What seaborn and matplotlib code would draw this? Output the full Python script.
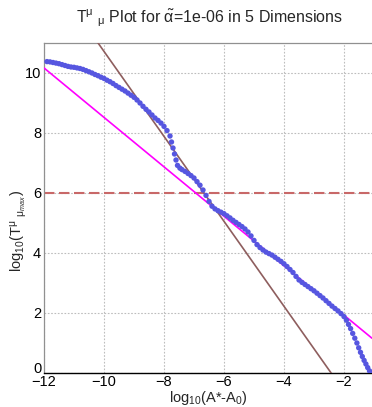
import numpy as np
import pandas as pd
import matplotlib
matplotlib.use("Agg")
import matplotlib.pyplot as plt
from matplotlib.ticker import MultipleLocator
import seaborn as sns

# Measured trace of T^mu_mu (log10) against log10(A* - A0)
log_da = [
    -11.90, -11.80, -11.70, -11.60, -11.50, -11.40, -11.30, -11.20, -11.10, -11.00,
    -10.90, -10.80, -10.70, -10.60, -10.50, -10.40, -10.30, -10.20, -10.10, -10.00,
    -9.90, -9.80, -9.70, -9.60, -9.50, -9.40, -9.30, -9.20, -9.10, -9.00,
    -8.90, -8.80, -8.70, -8.60, -8.50, -8.40, -8.30, -8.20, -8.10, -8.00,
    -7.90, -7.80, -7.75, -7.70, -7.65, -7.60, -7.55, -7.47,
    -7.40, -7.30, -7.20, -7.10, -7.00, -6.90, -6.80, -6.70, -6.60, -6.50,
    -6.40, -6.30, -6.20, -6.10, -6.00, -5.90, -5.80, -5.70, -5.60, -5.50,
    -5.40, -5.30, -5.20, -5.10, -5.00, -4.90, -4.80, -4.70, -4.60, -4.50,
    -4.40, -4.30, -4.20, -4.10, -4.00, -3.90, -3.80, -3.70, -3.60, -3.50,
    -3.40, -3.30, -3.20, -3.10, -3.00, -2.90, -2.80, -2.70, -2.60, -2.50,
    -2.40, -2.30, -2.20, -2.10, -2.00,
    -1.92, -1.85, -1.78, -1.71, -1.64, -1.57, -1.51, -1.45, -1.39, -1.33,
    -1.27, -1.21, -1.15, -1.10,
]
log_t = [
    10.38, 10.37, 10.35, 10.33, 10.31, 10.28, 10.25, 10.22, 10.20, 10.19,
    10.17, 10.15, 10.12, 10.08, 10.04, 10.00, 9.95, 9.91, 9.86, 9.82,
    9.76, 9.71, 9.65, 9.58, 9.52, 9.46, 9.40, 9.33, 9.26, 9.19,
    9.10, 9.00, 8.89, 8.79, 8.70, 8.60, 8.50, 8.42, 8.33, 8.22,
    8.08, 7.90, 7.70, 7.50, 7.30, 7.10, 6.92, 6.83,
    6.78, 6.72, 6.65, 6.58, 6.50, 6.38, 6.26, 6.10, 5.92, 5.72,
    5.56, 5.47, 5.41, 5.36, 5.31, 5.24, 5.17, 5.09, 5.02, 4.95,
    4.88, 4.80, 4.70, 4.57, 4.42, 4.28, 4.18, 4.10, 4.03, 3.98,
    3.93, 3.86, 3.79, 3.72, 3.64, 3.55, 3.45, 3.35, 3.22, 3.10,
    3.02, 2.95, 2.88, 2.81, 2.74, 2.66, 2.58, 2.50, 2.41, 2.32,
    2.23, 2.15, 2.07, 1.98, 1.88,
    1.76, 1.62, 1.48, 1.32, 1.16, 1.00, 0.84, 0.69, 0.55, 0.42,
    0.30, 0.18, 0.07, -0.03,
]

# Straight-line fits: (intercept, slope)
fit_magenta = (0.28, -0.824)
fit_brown = (-3.44, -1.416)
threshold = 6.0

x_range = (-12.0, -1.0667)
y_range = (0.0, 11.0)

sns.set_style("white")
plt.rcParams["font.family"] = ["Liberation Sans", "DejaVu Sans"]
plt.rcParams["mathtext.fontset"] = "custom"
plt.rcParams["mathtext.rm"] = "Liberation Sans"
plt.rcParams["mathtext.it"] = "Liberation Sans:italic"

fig = plt.figure(figsize=(3.72, 4.07), dpi=100)
ax = fig.add_axes([44 / 372, 34 / 407, 328 / 372, 330 / 407])

df = pd.DataFrame({"x": log_da, "y": log_t})

xs = np.array(x_range)
fits = pd.DataFrame({
    "x": np.concatenate([xs, xs]),
    "y": np.concatenate([fit_magenta[0] + fit_magenta[1] * xs,
                         fit_brown[0] + fit_brown[1] * xs]),
    "fit": ["a", "a", "b", "b"],
})

ax.axhline(threshold, color="#c86868", lw=1.5, dashes=(5, 2.2), zorder=2)
sns.lineplot(data=fits, x="x", y="y", hue="fit",
             palette={"a": "#ff00ff", "b": "#8e5e5e"},
             linewidth=1.2, legend=False, ax=ax, zorder=3)
sns.scatterplot(data=df, x="x", y="y", s=15, color="#5656e0",
                edgecolor="none", linewidth=0, ax=ax, zorder=4)

ax.set_xlim(*x_range)
ax.set_ylim(*y_range)

ax.xaxis.set_major_locator(MultipleLocator(2))
ax.xaxis.set_minor_locator(MultipleLocator(0.5))
ax.yaxis.set_major_locator(MultipleLocator(2))
ax.yaxis.set_minor_locator(MultipleLocator(0.5))

ax.grid(True, which="major", color="#bdbdbd", linestyle=(0, (1.5, 1.5)), linewidth=0.8)
ax.set_axisbelow(True)

ax.tick_params(axis="both", which="both", direction="in", labelsize=10.5)
ax.tick_params(axis="both", which="major", length=6.5, width=0.8)
ax.tick_params(axis="both", which="minor", length=3.2, width=0.8)
ax.tick_params(axis="x", which="both", pad=1.5, colors="#333333", labelcolor="black")
ax.tick_params(axis="y", which="both", pad=2, colors="#888888", labelcolor="black")

# the zero label on the y axis rests on the corner
for lab in ax.get_yticklabels():
    if lab.get_text() in ("0", "\N{MINUS SIGN}0"):
        lab.set_verticalalignment("baseline")

for side in ("top", "left"):
    ax.spines[side].set_color("#909090")
    ax.spines[side].set_linewidth(0.9)
ax.spines["bottom"].set_color("black")
ax.spines["bottom"].set_linewidth(1.0)
ax.spines["right"].set_visible(False)

ax.set_xlabel(r"log$_{10}$(A*-A$_{0}$)", fontsize=10.5, labelpad=0)
ax.set_ylabel(r"log$_{10}$(T$^{\mathrm{μ}}$ $_{\mathrm{μ}_{max}}$)", fontsize=10.5)
ax.xaxis.set_label_coords(0.5, -0.048)
ax.yaxis.set_label_coords(-0.045, 0.43)

fig.text(0.562, 0.955, r"T$^{\mathrm{μ}}$ $_{\mathrm{μ}}$ Plot for $\tilde{\mathrm{α}}$=1e-06 in 5 Dimensions",
         ha="center", va="center", fontsize=11.5)

fig.savefig("out.png", dpi=100)
